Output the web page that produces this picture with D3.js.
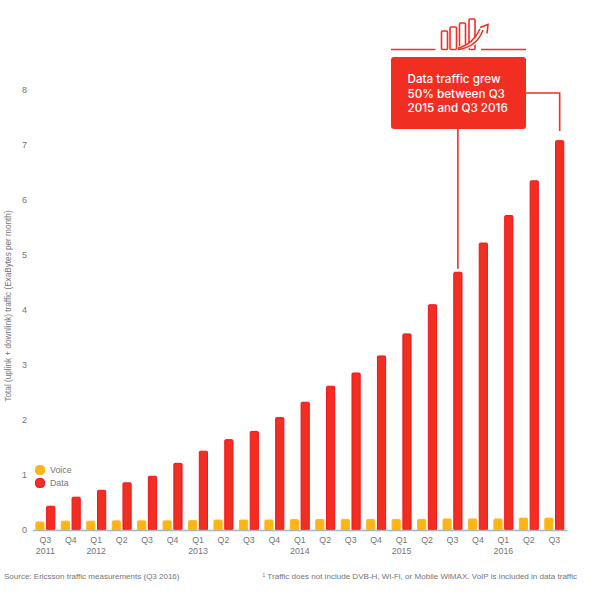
<!DOCTYPE html>
<html><head><meta charset="utf-8">
<script src="https://cdn.jsdelivr.net/npm/d3@7"></script>
<style>html,body{margin:0;padding:0;background:#fff}svg{display:block}text{font-family:"Liberation Sans",Arial,sans-serif}</style>
</head><body><svg id="c" width="600" height="600"></svg>
<script>
const quarters=["Q3","Q4","Q1","Q2","Q3","Q4","Q1","Q2","Q3","Q4","Q1","Q2","Q3","Q4","Q1","Q2","Q3","Q4","Q1","Q2","Q3"];
const years=["2011","","2012","","","","2013","","","","2014","","","","2015","","","","2016","",""];
const voice=[0.155,0.17,0.17,0.175,0.175,0.175,0.18,0.19,0.19,0.19,0.2,0.2,0.2,0.2,0.2,0.2,0.21,0.21,0.21,0.225,0.225];
const data=[0.44,0.605,0.73,0.865,0.985,1.22,1.44,1.65,1.8,2.05,2.33,2.62,2.86,3.17,3.57,4.1,4.69,5.22,5.72,6.35,7.08];
const yTicks=[0,1,2,3,4,5,6,7,8];
const seriesNames=["Voice","Data"];
const colors={Voice:"#fdb515",Data:"#f12e22"};
const strokes={Voice:"#fdb81e",Data:"#f5121a"};
const ids=quarters.map((_,i)=>i);
const svg=d3.select("#c");
const x=d3.scaleBand().domain(ids).range([32.6,567]).paddingInner(0.214).paddingOuter(0.107);
const sub=d3.scaleBand().domain(seriesNames).range([0,x.bandwidth()]).paddingInner(0.148);
const y=d3.scaleLinear().domain([0,8]).range([530,89.5]);
const grey="#737577";

// bars
seriesNames.forEach(s=>{
  const vals=s==="Voice"?voice:data;
  svg.append("g").selectAll("rect").data(ids).join("rect")
    .attr("x",i=>x(i)+sub(s)+0.5).attr("width",sub.bandwidth()-1)
    .attr("y",i=>y(vals[i])+0.5).attr("height",i=>y(0)-y(vals[i])-0.5)
    .attr("rx",1).attr("fill",colors[s]).attr("stroke",strokes[s]).attr("stroke-width",1);
});

// y axis
const ga=svg.append("g").attr("transform","translate(27,0)").call(d3.axisLeft(y).tickValues(yTicks).tickSize(0).tickPadding(0));
ga.select(".domain").remove();
ga.selectAll("text").attr("font-size",9).attr("fill",grey).attr("text-anchor","end").attr("dy","0.32em");

// x axis
const gx=svg.append("g").attr("transform","translate(0,530)").call(d3.axisBottom(x).tickFormat(i=>quarters[i]).tickSize(0).tickPadding(7));
gx.select(".domain").attr("stroke","#a9b4c0").attr("stroke-width",1.6);
gx.selectAll("text").attr("font-size",8.8).attr("fill",grey);
gx.selectAll(".tick").append("text").text(i=>years[i]).attr("y",23.5).attr("font-size",8.8).attr("fill",grey).attr("text-anchor","middle");

// y title
svg.append("text").attr("transform","translate(11,306) rotate(-90)").attr("text-anchor","middle")
  .attr("font-size",8.2).attr("fill",grey).text("Total (uplink + downlink) traffic (ExaBytes per month)");

// legend
seriesNames.forEach((s,i)=>{
  const cy=470+i*13;
  svg.append("rect").attr("x",35.5).attr("y",cy-4.5).attr("width",9).attr("height",9).attr("rx",3.5).attr("fill",colors[s]).attr("stroke",strokes[s]);
  svg.append("text").attr("x",50).attr("y",cy+3).attr("font-size",8.8).attr("fill",grey).text(s);
});

// footers
svg.append("text").attr("x",4).attr("y",579).attr("font-size",8).attr("fill",grey).text("Source: Ericsson traffic measurements (Q3 2016)");
svg.append("text").attr("x",577).attr("y",579).attr("text-anchor","end").attr("font-size",8.06).attr("fill",grey).text("¹ Traffic does not include DVB-H, Wi-Fi, or Mobile WiMAX. VoIP is included in data traffic");

// callout
const red="#f12e22";
svg.append("rect").attr("x",391).attr("y",57).attr("width",135).attr("height",72).attr("rx",3).attr("fill",red);
["Data traffic grew","50% between Q3","2015 and Q3 2016"].forEach((t,i)=>{
  svg.append("text").attr("x",407.5).attr("y",83+i*14.6).attr("font-size",11.7).attr("font-weight",500).attr("style","font-family:Inter,sans-serif").attr("fill","#fff").text(t);
});
const last=x(20)+sub("Data")+sub.bandwidth()/2, prev=x(16)+sub("Data")+sub.bandwidth()/2;
svg.append("path").attr("fill","none").attr("stroke",red).attr("stroke-width",1.6)
  .attr("d",`M526,93H${last}V131`);
svg.append("path").attr("fill","none").attr("stroke",red).attr("stroke-width",1.6)
  .attr("d",`M${prev},129V${y(data[16])-3}`);
svg.append("path").attr("fill","none").attr("stroke",red).attr("stroke-width",1.6).attr("d","M391,49.5H435.5M481,49.5H526");
// icon
const ic=svg.append("g").attr("fill","none").attr("stroke",red).attr("stroke-width",1.6);
[[441.5,31,6],[450,27,6.5],[459.5,23,6],[469,19,6]].forEach(([a,b,w])=>ic.append("rect").attr("x",a).attr("y",b).attr("width",w).attr("height",49.5-b).attr("rx",1).attr("fill","#fff"));
ic.append("path").attr("stroke","#fff").attr("stroke-width",5).attr("d","M458,49C470,47 480,40 485,28");
ic.append("path").attr("stroke-width",1.5).attr("d","M458,49.5C470,48 479,41 483,30M458,48C468,46 476,38 480,29");
ic.append("path").attr("stroke-width",1.6).attr("stroke-linejoin","miter").attr("d","M480,27.5L488,24.5L487,33.5");
</script></body></html>
